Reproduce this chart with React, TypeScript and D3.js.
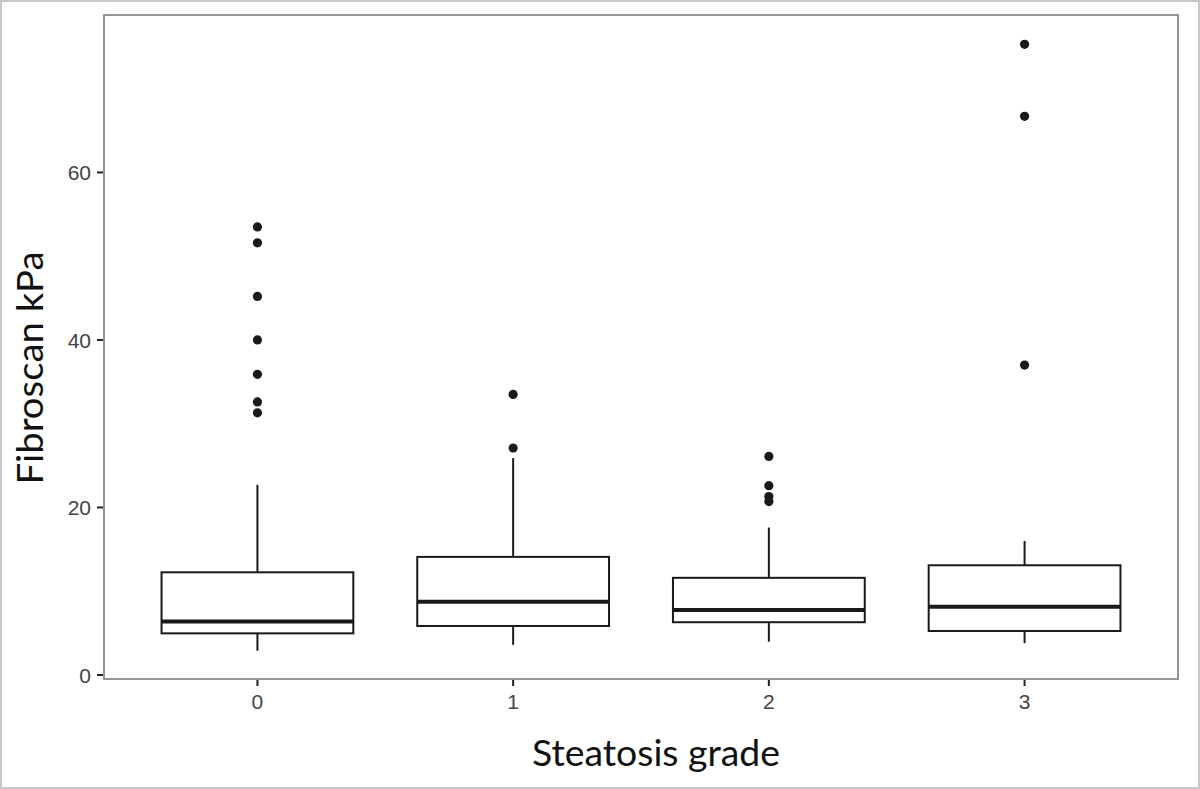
import React from "react";
import * as d3 from "d3";

const categories = ["0", "1", "2", "3"];
const q1 = [4.97, 5.85, 6.3, 5.25];
const medians = [6.4, 8.75, 7.76, 8.15];
const q3 = [12.26, 14.1, 11.6, 13.1];
const whiskerLow = [2.9, 3.6, 3.98, 3.8];
const whiskerHigh = [22.7, 25.9, 17.6, 16.0];
const outliers: number[][] = [
  [53.5, 51.6, 45.2, 40.0, 35.9, 32.6, 31.3],
  [33.5, 27.1],
  [26.1, 22.6, 21.3, 20.7],
  [75.3, 66.7, 37.0],
];
const yTicks = [0, 20, 40, 60];
const xTitle = "Steatosis grade";
const yTitle = "Fibroscan kPa";

const W = 1200;
const H = 789;
const panel = { left: 104, right: 1178, top: 15, bottom: 679 };

export default function App() {
  // ggplot-style discrete scale: 0.6 units of expansion per side
  const x = d3
    .scalePoint<string>()
    .domain(categories)
    .range([panel.left, panel.right])
    .padding(0.6);
  const unit = x.step();
  const boxW = unit * 0.75;
  const y = d3.scaleLinear().domain([-0.48, 78.8]).range([panel.bottom, panel.top]);

  const boxStroke = "#1a1a1a";
  const tickFont = "'Liberation Sans', Arial, sans-serif";
  const titleFont = "Lato, 'Open Sans', sans-serif";

  return (
    <svg
      width={W}
      height={H}
      style={{ position: "absolute", left: 0, top: 0, display: "block", background: "#fff" }}
    >
      <rect x={1} y={1} width={W - 2} height={H - 2} fill="#fff" stroke="#c8c8c8" strokeWidth={2} />
      {categories.map((c, i) => {
        const xc = x(c) as number;
        return (
          <g key={c}>
            <line x1={xc} x2={xc} y1={y(q3[i])} y2={y(whiskerHigh[i])} stroke={boxStroke} strokeWidth={2} />
            <line x1={xc} x2={xc} y1={y(q1[i])} y2={y(whiskerLow[i])} stroke={boxStroke} strokeWidth={2} />
            <rect
              x={xc - boxW / 2}
              y={y(q3[i])}
              width={boxW}
              height={y(q1[i]) - y(q3[i])}
              fill="#fff"
              stroke={boxStroke}
              strokeWidth={2}
            />
            <line
              x1={xc - boxW / 2}
              x2={xc + boxW / 2}
              y1={y(medians[i])}
              y2={y(medians[i])}
              stroke={boxStroke}
              strokeWidth={4}
            />
            {outliers[i].map((v, j) => (
              <circle key={j} cx={xc} cy={y(v)} r={4.6} fill="#1a1a1a" />
            ))}
          </g>
        );
      })}
      <rect
        x={panel.left}
        y={panel.top}
        width={panel.right - panel.left}
        height={panel.bottom - panel.top}
        fill="none"
        stroke="#8a8a8a"
        strokeWidth={1.8}
      />
      {yTicks.map((t) => (
        <g key={t}>
          <line x1={panel.left - 7} x2={panel.left - 1} y1={y(t)} y2={y(t)} stroke="#222" strokeWidth={2} />
          <text
            x={panel.left - 13}
            y={y(t)}
            dy="0.36em"
            textAnchor="end"
            fontFamily={tickFont}
            fontSize={21}
            fill="#444"
          >
            {t}
          </text>
        </g>
      ))}
      {categories.map((c) => (
        <g key={c}>
          <line
            x1={x(c) as number}
            x2={x(c) as number}
            y1={panel.bottom + 1}
            y2={panel.bottom + 7}
            stroke="#222"
            strokeWidth={2}
          />
          <text
            x={x(c) as number}
            y={709}
            textAnchor="middle"
            fontFamily={tickFont}
            fontSize={21}
            fill="#444"
          >
            {c}
          </text>
        </g>
      ))}
      <text
        x={656}
        y={766}
        textAnchor="middle"
        fontFamily={titleFont}
        fontSize={37}
        fill="#111"
        textLength={248}
        lengthAdjust="spacingAndGlyphs"
      >
        {xTitle}
      </text>
      <text
        transform={`translate(43, 368) rotate(-90)`}
        textAnchor="middle"
        fontFamily={titleFont}
        fontSize={37}
        fill="#111"
        textLength={233}
        lengthAdjust="spacingAndGlyphs"
      >
        {yTitle}
      </text>
    </svg>
  );
}
